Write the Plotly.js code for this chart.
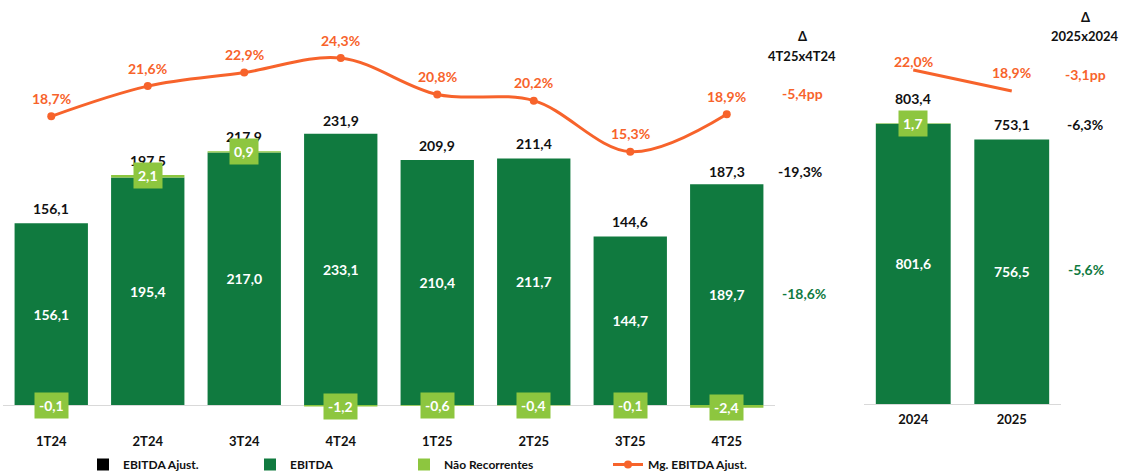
<!DOCTYPE html>
<html>
<head>
<meta charset="utf-8">
<script src="https://cdn.plot.ly/plotly-3.0.1.min.js"></script>
<style>html,body{margin:0;padding:0;background:#fff;}#chart{width:1124px;height:473px;}</style>
</head>
<body>
<div id="chart"></div>
<script>
// ---- data ----
const quarters = ['1T24','2T24','3T24','4T24','1T25','2T25','3T25','4T25'];
const ebitdaQ  = [156.1, 195.4, 217.0, 233.1, 210.4, 211.7, 144.7, 189.7];
const naoRecQ  = [-0.1, 2.1, 0.9, -1.2, -0.6, -0.4, -0.1, -2.4];
const ajustQ   = [156.1, 197.5, 217.9, 231.9, 209.9, 211.4, 144.6, 187.3];
const margemQ  = [18.7, 21.6, 22.9, 24.3, 20.8, 20.2, 15.3, 18.9];

const years    = ['2024','2025'];
const ebitdaY  = [801.6, 756.5];
const naoRecY  = [1.7, null];
const ajustY   = [803.4, 753.1];
const margemY  = [22.0, 18.9];

const deltaQHeader = ['Δ', '4T25x4T24'];
const deltaQ       = ['-5,4pp', '-19,3%', '-18,6%'];
const deltaYHeader = ['Δ', '2025x2024'];
const deltaY       = ['-3,1pp', '-6,3%', '-5,6%'];

const seriesNames = ['EBITDA Ajust.', 'EBITDA', 'Não Recorrentes', 'Mg. EBITDA Ajust.'];

// ---- style ----
const DARK = '#107A3F', LIGHT = '#8DC63F', ORANGE = '#F7632B', BLACK = '#111111';
const FONT = 'Lato, "Open Sans", sans-serif';
const fmt = v => v.toFixed(1).replace('.', ',');
const fmtPct = v => v.toFixed(1).replace('.', ',') + '%';
const W = 1124, TOP = 20, BOT = 428;
const px = x => x / W;
const py = y => (BOT - y) / (BOT - TOP);

const traces = [
  {type:'bar', name: seriesNames[0], x: quarters, y: quarters.map(()=>null),
   marker:{color:'#000'}, xaxis:'x', yaxis:'y', legend:'legend', hoverinfo:'skip'},
  {type:'bar', name: seriesNames[1], x: quarters, y: ebitdaQ, marker:{color: DARK},
   text: ebitdaQ.map(fmt), textposition:'inside', insidetextanchor:'middle', textangle:0,
   textfont:{color:'#fff', family:FONT, size:14, weight:700},
   xaxis:'x', yaxis:'y', legend:'legend2', hoverinfo:'skip'},
  {type:'bar', name: seriesNames[2], x: quarters, y: naoRecQ, marker:{color: LIGHT},
   xaxis:'x', yaxis:'y', legend:'legend3', hoverinfo:'skip'},
  {type:'scatter', mode:'lines+markers', name: seriesNames[3], x: quarters, y: margemQ,
   line:{color: ORANGE, width:3, shape:'spline', smoothing:1}, marker:{color: ORANGE, size:8},
   xaxis:'x', yaxis:'y2', legend:'legend4', hoverinfo:'skip'},
  {type:'bar', name: seriesNames[1], x: years, y: ebitdaY, marker:{color: DARK},
   text: ebitdaY.map(fmt), textposition:'inside', insidetextanchor:'middle', textangle:0,
   textfont:{color:'#fff', family:FONT, size:14, weight:700},
   xaxis:'x2', yaxis:'y3', showlegend:false, hoverinfo:'skip'},
  {type:'bar', name: seriesNames[2], x: years, y: naoRecY, marker:{color: LIGHT},
   xaxis:'x2', yaxis:'y3', showlegend:false, hoverinfo:'skip'},
  {type:'scatter', mode:'lines', name: seriesNames[3], x: years, y: margemY,
   line:{color: ORANGE, width:3}, xaxis:'x2', yaxis:'y4', showlegend:false, hoverinfo:'skip'}
];

const ann = [];
const bold = (size, color) => ({family: FONT, size: size, color: color, weight: 700});
// quarterly margin labels
quarters.forEach((q,i) => ann.push({xref:'x', yref:'y2', x:i, y:margemQ[i], yshift:18,
  text: fmtPct(margemQ[i]), showarrow:false, font: bold(14, ORANGE)}));
// quarterly adjusted EBITDA labels
quarters.forEach((q,i) => ann.push({xref:'x', yref:'y', x:i, y:ajustQ[i], yshift:15,
  text: fmt(ajustQ[i]), showarrow:false, font: bold(14, BLACK)}));
// quarterly non-recurring boxes
quarters.forEach((q,i) => {
  const v = naoRecQ[i];
  ann.push({xref:'x', yref:'y', x:i, y: v > 0 ? ebitdaQ[i] + v : v, yanchor:'middle',
    text: fmt(v), showarrow:false, bgcolor: LIGHT, borderpad:4, font: bold(14, '#fff')});
});
// annual labels (category index used as x)
const annualAjustShift = [25, 16];
const annualMgShift = [9, 19];
years.forEach((yr,i) => {
  ann.push({xref:'x2', yref:'y4', x:i, y:margemY[i], yshift: annualMgShift[i],
    text: fmtPct(margemY[i]), showarrow:false, font: bold(14, ORANGE)});
  ann.push({xref:'x2', yref:'y3', x:i, y:ajustY[i], yshift: annualAjustShift[i],
    text: fmt(ajustY[i]), showarrow:false, font: bold(14, BLACK)});
  if (naoRecY[i] !== null) {
    const v = naoRecY[i];
    ann.push({xref:'x2', yref:'y3', x:i, y: v > 0 ? ebitdaY[i] + v : v, yanchor:'middle',
      text: fmt(v), showarrow:false, bgcolor: LIGHT, borderpad:4, font: bold(14, '#fff')});
  }
});
// delta columns
const addText = (x, y, t, color, size) => ann.push({xref:'paper', yref:'paper', x: px(x), y: py(y),
  xanchor:'center', yanchor:'middle', text:t, showarrow:false, font: bold(size, color)});
addText(802, 36, deltaQHeader[0], BLACK, 13);
addText(802, 56, deltaQHeader[1], BLACK, 13);
addText(802, 93, deltaQ[0], ORANGE, 14);
addText(800, 171, deltaQ[1], BLACK, 14);
addText(804, 293, deltaQ[2], DARK, 14);
addText(1085, 17, deltaYHeader[0], BLACK, 13);
addText(1085, 36, deltaYHeader[1], BLACK, 13);
addText(1085, 75, deltaY[0], ORANGE, 14);
addText(1085, 125, deltaY[1], BLACK, 14);
addText(1086, 269, deltaY[2], DARK, 14);

const legFont = bold(12, BLACK);
const mkLeg = x => ({x: px(x), y: py(450), xanchor:'left', yanchor:'top', orientation:'h',
  font: legFont, bgcolor:'rgba(0,0,0,0)', borderwidth:0, itemclick:false, itemdoubleclick:false});

const catAxis = {type:'category', showgrid:false, zeroline:false, showline:false, ticks:'',
  tickfont: bold(13, BLACK), fixedrange:true};
const valAxis = {showgrid:false, showticklabels:false, ticks:'', showline:false,
  zeroline:true, zerolinecolor:'#D9D9D9', zerolinewidth:1, fixedrange:true};

const layout = {
  width: 1124, height: 473,
  margin: {l:0, r:0, t:TOP, b:473-BOT, pad:0, autoexpand:false},
  paper_bgcolor:'#fff', plot_bgcolor:'rgba(0,0,0,0)',
  barmode:'relative', bargap:0.24,
  font: {family: FONT, color: BLACK},
  showlegend: true,
  legend: mkLeg(83), legend2: mkLeg(250), legend3: mkLeg(404), legend4: mkLeg(608),
  xaxis: Object.assign({}, catAxis, {domain:[px(3), px(775)], anchor:'y', range:[-0.5, 7.5], ticklabelstandoff:4}),
  yaxis: Object.assign({}, valAxis, {domain:[0,1], anchor:'x', range:[-19.76, 330.76]}),
  yaxis2: {overlaying:'y', anchor:'x', range:[-11.24, 27.95], visible:false, fixedrange:true},
  xaxis2: Object.assign({}, catAxis, {domain:[px(864), px(1061)], anchor:'y3', range:[-0.5, 1.5], ticklabelstandoff:4}),
  yaxis3: Object.assign({}, valAxis, {domain:[(BOT-406)/(BOT-TOP), 1], anchor:'x2', range:[-5.72, 1098.7]}),
  yaxis4: {overlaying:'y3', anchor:'x2', range:[-27.63, 29.39], visible:false, fixedrange:true},
  annotations: ann
};

Plotly.newPlot('chart', traces, layout, {displayModeBar:false, staticPlot:true});
</script>
</body>
</html>
